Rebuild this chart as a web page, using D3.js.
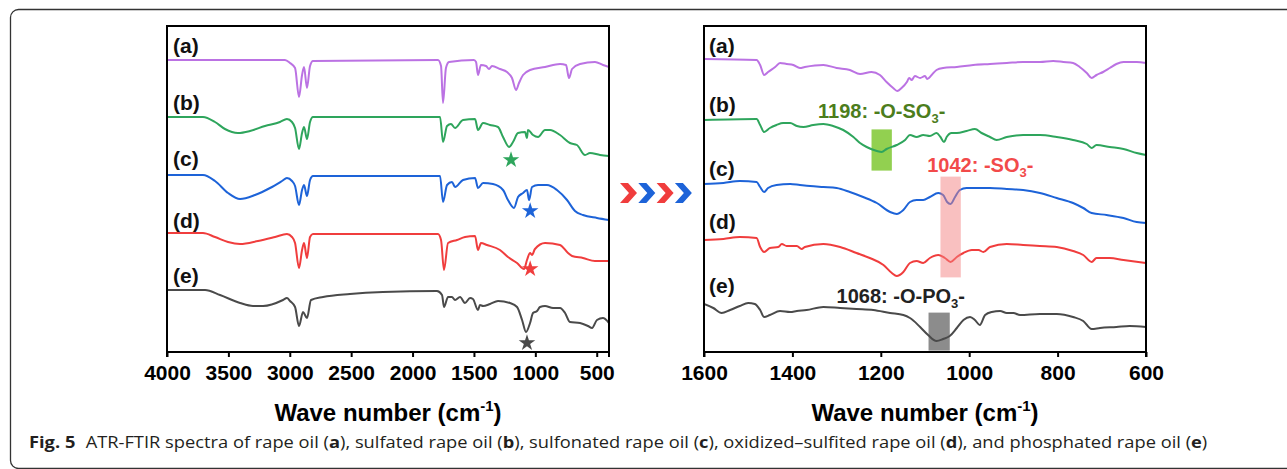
<!DOCTYPE html>
<html>
<head>
<meta charset="utf-8">
<script src="https://cdn.jsdelivr.net/npm/d3@7.9.0/dist/d3.min.js"></script>
<style>
  html, body { margin: 0; padding: 0; background: #fff; }
  svg { display: block; }
</style>
</head>
<body>
<div id="chart"></div>
<script>
// ---------- Data (y in arbitrary offset units) ----------

const fullDomain = [4000, 400];
const zoomDomain = [1600, 600];
const fullTicks = [4000, 3500, 3000, 2500, 2000, 1500, 1000, 500];
const zoomTicks = [1600, 1400, 1200, 1000, 800, 600];
const seriesLabels = ["(a)", "(b)", "(c)", "(d)", "(e)"];
const seriesColors = ["#bb72e3", "#2ea55c", "#1d63d8", "#f03d3d", "#4a4a4a"];

// full-range spectra, [wavenumber, transmittance a.u.]
const fullA = [[4000,146],[3039,146],[2998,144.5],[2957,142],[2925,127.5],[2900,138.5],[2884,142.5],[2860,132],[2835,143],[2811,145.5],[1793,146],[1768,143],[1752,124.5],[1728,142],[1703,145],[1500,146],[1483,145],[1467,138.5],[1443,143.5],[1402,143],[1377,141.5],[1353,143],[1288,141.5],[1231,140],[1190,137],[1157,131],[1133,134.5],[1100,138.5],[1043,141],[921,142.5],[799,144],[750,143.5],[726,137],[701,141.5],[636,144],[514,145],[449,143.5],[400,142.5]];
const fullB = [[4000,117.5],[3707,117.5],[3609,115],[3528,111.5],[3422,109.5],[3324,110.5],[3202,113],[3080,115],[3023,116.5],[2982,115],[2957,112],[2925,101.5],[2900,109.5],[2884,112.5],[2860,106.5],[2835,115],[2811,117.5],[1776,117.5],[1752,105],[1719,113],[1687,114],[1654,112],[1589,116],[1491,116.5],[1467,111],[1426,114.5],[1369,113.5],[1304,112.5],[1263,107.5],[1214,102.5],[1182,105],[1141,109.5],[1084,110],[1068,107],[1060,111],[1019,108.5],[978,107.5],[921,111],[880,111],[799,108.5],[718,104.5],[661,103.5],[595,98.5],[555,99.5],[473,98.5],[400,98]];
const fullC = [[4000,88.5],[3707,88.5],[3609,85.5],[3503,79.5],[3405,76.5],[3283,78.5],[3161,82],[3063,85.5],[3023,87],[2982,85.5],[2957,83],[2925,73.5],[2900,81],[2884,83.5],[2860,78],[2835,86],[2811,88],[1776,88],[1752,75],[1719,83.5],[1679,85],[1654,82.5],[1589,86],[1491,87],[1467,82],[1426,84.5],[1345,84],[1263,81],[1223,76],[1174,72],[1141,77.5],[1100,79.5],[1068,81],[1051,76],[1027,82.5],[978,83.5],[905,83.5],[824,81],[742,76],[677,70.5],[612,68.5],[498,67],[400,66]];
const fullD = [[4000,59.5],[3707,59.5],[3609,57.5],[3503,55],[3405,54],[3259,55.5],[3120,57.5],[3023,59],[2982,57.5],[2957,54.5],[2925,42],[2900,51],[2884,54.5],[2860,47],[2835,57.5],[2811,59],[1793,59],[1768,56],[1744,41],[1711,54.5],[1638,56],[1573,57.5],[1491,58],[1467,51],[1443,54.5],[1394,53.5],[1288,51],[1223,47.5],[1149,44.5],[1092,41.5],[1068,46],[1043,49.5],[1027,48.5],[1003,51.5],[921,54.5],[799,53.5],[734,49.5],[701,48],[612,47],[514,45.5],[400,45.5]];
const fullE = [[4000,31],[3690,31],[3568,28.5],[3405,24.5],[3300,23],[3218,23],[3055,26],[3023,27],[2998,25.5],[2957,22.5],[2925,13],[2892,20],[2860,17],[2827,26],[2729,27.5],[2510,29],[2241,30],[1801,30.5],[1760,28.5],[1744,22.5],[1711,27.5],[1679,27.5],[1654,26],[1613,27.5],[1573,24.5],[1532,27],[1508,26.5],[1467,21],[1451,23.5],[1426,23],[1369,24],[1304,25.5],[1206,24.5],[1149,22.5],[1108,16],[1076,10],[1043,14.5],[1019,19.5],[986,20.5],[962,22.5],[921,23],[856,22],[799,22],[758,19.5],[718,15],[636,14.5],[571,13],[538,12],[498,16],[449,17],[400,14.5]];

// 1600-600 cm-1 close-up spectra
const zoomA = [[1600,146.5],[1481,146],[1473,143.5],[1464,138.5],[1455,140],[1439,142.5],[1428,144.5],[1413,144],[1398,143.5],[1383,142],[1372,142.5],[1330,143.5],[1300,142],[1270,141],[1247,139],[1221,140],[1202,138.5],[1187,135],[1172,132],[1163,130.5],[1153,132],[1141,135],[1136,137],[1130,136],[1123,138],[1111,137],[1100,138],[1095,136.5],[1085,138.5],[1074,141],[1059,142],[1028,142.5],[991,143.5],[953,144],[915,144.5],[878,145],[840,145],[810,145.5],[787,145],[765,144.5],[750,142.5],[734,139.5],[723,137],[712,138.5],[697,140],[682,142],[667,144],[651,145],[621,145],[600,144.5]];
const zoomB = [[1600,116],[1481,116.5],[1473,113.5],[1464,110],[1451,112],[1436,113.5],[1421,114.5],[1405,114.5],[1390,113],[1375,112.5],[1353,113.5],[1330,114],[1308,113],[1285,111],[1262,107.5],[1247,104.5],[1232,102.5],[1209,100.5],[1198,100],[1187,101.5],[1164,103.5],[1145,106],[1134,108.5],[1119,107.5],[1104,108.5],[1089,108],[1074,109.5],[1065,107.5],[1057,105],[1051,107.5],[1040,109.5],[1028,109.5],[1006,110.5],[987,111.5],[972,109.5],[953,107.5],[938,106],[915,107.5],[878,108.5],[840,108.5],[802,107.5],[765,106],[734,104],[723,102],[712,103.5],[682,102.5],[651,101.5],[621,99.5],[600,98.5]];
const zoomC = [[1600,84],[1556,84.5],[1519,85.5],[1481,85],[1473,82.5],[1464,80],[1455,82],[1436,83.5],[1405,84],[1383,83.5],[1360,83],[1330,82.5],[1300,82],[1270,80],[1240,77.5],[1209,74.5],[1179,70],[1164,69],[1149,71],[1134,75],[1119,76],[1104,76],[1089,77.5],[1070,79.5],[1059,78.5],[1050,75],[1042,74],[1032,77.5],[1021,81],[1006,82],[953,82],[915,81.5],[878,81],[840,79.5],[802,77],[765,74.5],[742,72],[723,69.5],[689,68.5],[651,67],[621,65],[600,64.5]];
const zoomD = [[1600,56],[1556,56.5],[1519,57.5],[1481,57],[1473,52.5],[1464,50],[1451,52],[1432,52.5],[1424,54],[1413,53],[1390,53],[1379,51.5],[1372,52.5],[1330,54],[1292,52.5],[1255,49.5],[1225,47],[1194,43.5],[1175,39.5],[1164,38],[1149,40],[1134,44.5],[1119,45.5],[1104,44.5],[1089,47],[1070,48.5],[1055,47],[1042,45],[1028,47.5],[1013,49.5],[994,51],[979,51],[968,50],[953,52.5],[915,54],[878,53.5],[840,53],[802,52.5],[765,50.5],[742,48.5],[723,45],[712,47],[682,47],[651,46],[600,44.5]];
const zoomE = [[1600,24],[1579,22],[1560,19.5],[1541,21],[1519,23],[1500,24.5],[1485,24],[1473,21],[1464,17.5],[1451,18.5],[1428,20.5],[1405,20],[1390,20.5],[1368,21],[1330,22.5],[1292,22],[1255,21.5],[1217,21],[1179,19.5],[1149,18.5],[1134,17],[1111,12.5],[1093,8.5],[1074,5.5],[1059,6.5],[1044,8],[1028,12],[1013,16],[998,17.5],[987,16],[976,13.5],[964,18.5],[949,20],[930,20.5],[915,19.5],[900,19.5],[885,18.5],[840,19],[802,19],[765,17.5],[742,15.5],[723,11.5],[704,12],[667,12.5],[637,13],[600,12.5]];

// star markers on the full-range panel (series b..e)
const starSeries = [1, 2, 3, 4];
const starWn = [1198, 1042, 1042, 1068];
const starVal = [96, 70.5, 41.5, 4.5];

// highlighted bands on the close-up panel
const bandCenter = [1198, 1042, 1068];
const bandHalf = [23, 23, 24];
const bandTop = [111.3, 87.7, 19.7];
const bandBottom = [90.7, 37.3, 0.7];
const bandFill = ["#92d050", "#f38282", "#8c8c8c"];
const bandOpacity = [1, 0.5, 1];
const bandOnTop = [false, true, false];
const bandText = ["1198: -O-SO", "1042: -SO", "1068: -O-PO"];
const bandTextColor = ["#4c7d1c", "#f24a4a", "#222222"];
const bandTextWn = [1342, 1095, 1300];
const bandTextVal = [116.8, 90.2, 24.6];

const chevronColors = ["#f03d3d", "#1d63d8", "#f03d3d", "#1d63d8"];

const captionParts = [
  ["Fig. 5", true], ["ATR-FTIR spectra of rape oil (", false], ["a", true],
  ["), sulfated rape oil (", false], ["b", true], ["), sulfonated rape oil (", false],
  ["c", true], ["), oxidized\u2013sulfited rape oil (", false], ["d", true],
  ["), and phosphated rape oil (", false], ["e", true], [")", false]
];

// ---------- Layout ----------
const W = 1287, H = 469;
const plotTop = 26, plotBottom = 352;
const panels = [
  { x0: 167, x1: 609, domain: fullDomain, ticks: fullTicks,
    series: [fullA, fullB, fullC, fullD, fullE],
    labelX: 173, labelY: [53, 110, 166, 228, 283] },
  { x0: 704, x1: 1146, domain: zoomDomain, ticks: zoomTicks,
    series: [zoomA, zoomB, zoomC, zoomD, zoomE],
    labelX: 709, labelY: [53, 112, 176, 229, 293] }
];
const axisFont = "'Liberation Sans', Arial, sans-serif";

const svg = d3.select("#chart").append("svg")
  .attr("width", W).attr("height", H)
  .style("font-family", axisFont);

// outer figure frame
svg.append("rect")
  .attr("x", 10.5).attr("y", 9.5)
  .attr("width", 1300).attr("height", 459)
  .attr("rx", 8).attr("ry", 8)
  .attr("fill", "none").attr("stroke", "#333").attr("stroke-width", 1.3);

const y = d3.scaleLinear().domain([0, 163]).range([plotBottom, plotTop]);

panels.forEach((p, pi) => {
  const x = d3.scaleLinear().domain(p.domain).range([p.x0, p.x1]);
  const g = svg.append("g");

  const clipId = "clip" + pi;
  svg.append("clipPath").attr("id", clipId)
    .append("rect").attr("x", p.x0).attr("y", plotTop)
    .attr("width", p.x1 - p.x0).attr("height", plotBottom - plotTop);

  const line = d3.line()
    .x(d => x(d[0])).y(d => y(d[1]))
    .curve(d3.curveMonotoneX);

  const drawBands = (onTop) => {
    if (pi !== 1) return;
    bandCenter.forEach((c, i) => {
      if (bandOnTop[i] !== onTop) return;
      g.append("rect")
        .attr("x", x(c + bandHalf[i]))
        .attr("width", x(c - bandHalf[i]) - x(c + bandHalf[i]))
        .attr("y", y(bandTop[i]))
        .attr("height", y(bandBottom[i]) - y(bandTop[i]))
        .attr("fill", bandFill[i])
        .attr("opacity", bandOpacity[i]);
    });
  };

  drawBands(false);

  g.append("g").attr("clip-path", `url(#${clipId})`)
    .selectAll("path")
    .data(p.series)
    .join("path")
    .attr("d", line)
    .attr("fill", "none")
    .attr("stroke", (d, i) => seriesColors[i])
    .attr("stroke-width", 2)
    .attr("stroke-linejoin", "round");

  drawBands(true);

  // series labels
  g.selectAll("text.lab")
    .data(seriesLabels)
    .join("text")
    .attr("class", "lab")
    .attr("x", p.labelX)
    .attr("y", (d, i) => p.labelY[i])
    .attr("font-size", 21).attr("font-weight", "bold")
    .attr("fill", "#111")
    .text(d => d);

  if (pi === 0) {
    const star = d3.symbol(d3.symbolStar, 85);
    g.selectAll("path.star")
      .data(starSeries)
      .join("path")
      .attr("class", "star")
      .attr("d", star)
      .attr("transform", (s, i) => `translate(${x(starWn[i])},${y(starVal[i])})`)
      .attr("fill", s => seriesColors[s]);
  } else {
    bandText.forEach((t, i) => {
      const txt = g.append("text")
        .attr("x", x(bandTextWn[i]))
        .attr("y", y(bandTextVal[i]))
        .attr("font-size", 20).attr("font-weight", "bold")
        .attr("fill", bandTextColor[i]);
      txt.append("tspan").text(t);
      txt.append("tspan").attr("font-size", 13).attr("dy", 5).text("3");
      txt.append("tspan").attr("dy", -5).text("-");
    });
  }

  // frame
  g.append("path")
    .attr("d", `M${p.x0},${plotBottom + 5}V${plotTop}H${p.x1}V${plotBottom + 5}M${p.x0},${plotBottom}H${p.x1}`)
    .attr("fill", "none").attr("stroke", "#000").attr("stroke-width", 2);

  // x axis
  const ax = g.append("g")
    .attr("transform", `translate(0,${plotBottom})`)
    .call(d3.axisBottom(x).tickValues(p.ticks).tickFormat(d3.format("d"))
      .tickSize(5).tickSizeOuter(0).tickPadding(8));
  ax.select(".domain").remove();
  ax.selectAll(".tick line").attr("stroke", "#000").attr("stroke-width", 2);
  ax.selectAll(".tick text")
    .attr("font-size", 21).attr("font-weight", "bold")
    .attr("font-family", axisFont).attr("fill", "#000");

  const title = g.append("text")
    .attr("x", (p.x0 + p.x1) / 2).attr("y", 421)
    .attr("text-anchor", "middle")
    .attr("font-size", 24).attr("font-weight", "bold").attr("fill", "#000");
  title.append("tspan").text("Wave number (cm");
  title.append("tspan").attr("font-size", 15).attr("dy", -10).text("-1");
  title.append("tspan").attr("dy", 10).text(")");
});

// chevrons between the panels
svg.append("g").selectAll("path")
  .data(chevronColors)
  .join("path")
  .attr("transform", (d, i) => `translate(${620 + i * 18.3},183)`)
  .attr("d", "M0,0H8L17,10L8,20H0L9,10Z")
  .attr("fill", d => d);

// caption
const cap = svg.append("text")
  .attr("font-family", "'Open Sans', 'Noto Sans', sans-serif")
  .attr("font-size", 16)
  .attr("fill", "#231f20");
captionParts.forEach(([t, b], i) => {
  cap.append("tspan")
    .attr("font-weight", b ? "bold" : "normal")
    .attr("dx", i === 1 ? 9 : 0)
    .text(t);
});
const capLen = cap.node().getComputedTextLength();
cap.attr("transform", `translate(29,448) scale(${1169 / capLen},1)`);
</script>
</body>
</html>
